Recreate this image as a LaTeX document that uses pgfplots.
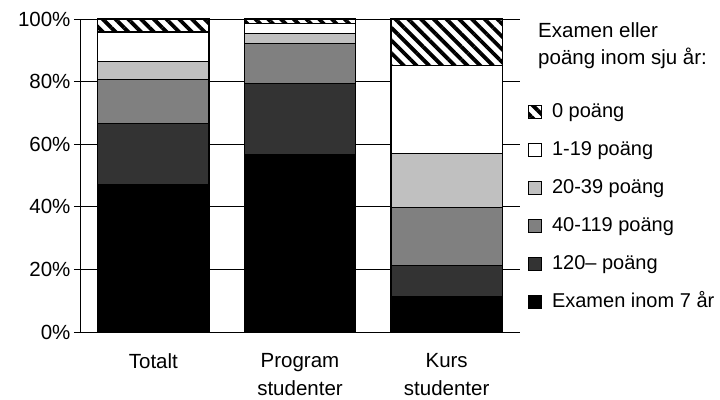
\documentclass[border=0pt]{standalone}
\usepackage{fontspec}
\setmainfont{Liberation Sans}
\usepackage{pgfplots}
\usepackage{pgfplotstable}
\pgfplotsset{compat=1.18}
\usetikzlibrary{patterns.meta}

% andel per grupp, procent (Examen, 120-, 40-119, 20-39, 1-19, 0 poang)
\pgfplotstableread{
idx exam p120 p40 p20 p1 p0
0 47.2 19.4 14.0 5.8 9.5 4.1
1 56.6 22.8 12.7 3.3 3.2 1.4
2 11.3 9.9 18.6 17.3 28.1 14.8
}\andelar

\definecolor{mork}{HTML}{333333}
\definecolor{mellan}{HTML}{808080}
\definecolor{ljus}{HTML}{C0C0C0}

\begin{document}
\begin{tikzpicture}[font=\fontsize{20.5bp}{28bp}\selectfont]
\useasboundingbox (-80bp,-68bp) rectangle (640bp,332bp);
\begin{axis}[
  at={(0,0)}, anchor=south west,
  scale only axis, width=440bp, height=313bp,
  clip=false,
  ybar stacked, bar width=0.76,
  xmin=-0.5, xmax=2.5, ymin=0, ymax=100,
  xtick={0,1,2},
  xticklabels={Totalt, Program\\studenter, Kurs\\studenter},
  xticklabel style={align=center, yshift=-12bp},
  ytick={0,20,...,100},
  yticklabel={\pgfmathprintnumber{\tick}\%},
  /pgf/number format/assume math mode=true,
  axis x line*=bottom, axis y line*=left,
  axis line style={black, line width=0.8bp},
  major x tick style={draw=none},
  tick align=outside, major tick length=6bp,
  major y tick style={black, line width=0.8bp},
  ymajorgrids, grid style={black, line width=0.6bp},
  every axis plot/.append style={draw=black, line width=1.5bp},
  reverse legend,
  legend image code/.code={\draw[#1, line width=0.9bp] (0bp,-6.5bp) rectangle (13bp,6.5bp);},
  legend style={at={(1.018,0.732)}, anchor=north west, draw=none, fill=none,
    inner sep=0pt, row sep=20bp, column sep=10bp,
    font=\fontsize{20bp}{28bp}\selectfont,
    nodes={inner sep=0pt, text height=14bp, text depth=4bp}},
  legend cell align=left,
]
\addplot[fill=black] table[x=idx, y=exam] {\andelar};
\addplot[fill=mork] table[x=idx, y=p120] {\andelar};
\addplot[fill=mellan] table[x=idx, y=p40] {\andelar};
\addplot[fill=ljus] table[x=idx, y=p20] {\andelar};
\addplot[fill=white] table[x=idx, y=p1] {\andelar};
\addplot[fill=white, postaction={pattern={Lines[angle=-45, distance=9bp, line width=3.8bp]}}] table[x=idx, y=p0] {\andelar};
\legend{Examen inom 7 år, 120– poäng, 40-119 poäng, 20-39 poäng, 1-19 poäng, 0 poäng}
\node[anchor=base west, inner sep=0pt] at (rel axis cs:1.041,0.940) {Examen eller};
\node[anchor=base west, inner sep=0pt] at (rel axis cs:1.041,0.856) {poäng inom sju år:};
\end{axis}
\end{tikzpicture}
\end{document}
